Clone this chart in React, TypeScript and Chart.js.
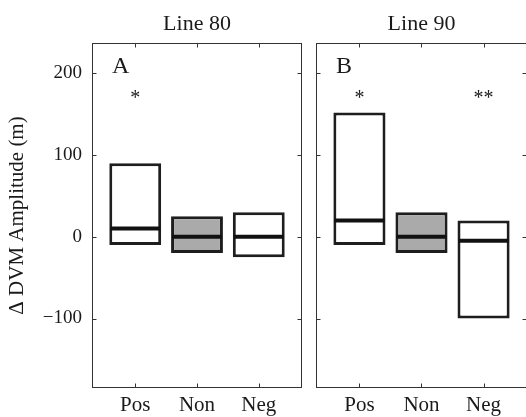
import React, { useEffect, useRef } from 'react';
import { Chart, registerables } from 'chart.js';
Chart.register(...registerables);

// ---- data ----
const categories = ['Pos', 'Non', 'Neg'];
const categoryPositions = [1, 2, 3];
const line80Low = [-10, -20, -25];
const line80High = [90, 25, 30];
const line80Median = [10, 0, 0];
const line90Low = [-10, -20, -100];
const line90High = [152, 30, 20];
const line90Median = [20, 0, -5];
const boxFills = ['#ffffff', '#aaaaaa', '#ffffff'];
const line80Marks = ['*', '', ''];
const line90Marks = ['*', '', '**'];
const markLevel = 175;
const yTicks = [-100, 0, 100, 200];
const yMin = -185;
const yMax = 237;
const xMin = 0.3;
const xMax = 3.7;
const panelTitles = ['Line 80', 'Line 90'];
const panelLetters = ['A', 'B'];
const yAxisTitle = 'Δ DVM Amplitude (m)';

const FONT = "'Liberation Serif', 'Times New Roman', serif";
const TEXT = '#1a1a1a';
const FRAME = '#333333';

function panelPlugin(title: string, letter: string, medians: number[], marks: string[]) {
  return {
    id: 'panelDecor' + letter,
    afterDatasetsDraw(chart: any) {
      const { ctx, chartArea } = chart;
      const xs = chart.scales.x;
      const ys = chart.scales.y;
      const L = Math.round(chartArea.left) + 0.5;
      const R = Math.round(chartArea.right) - 0.5;
      const T = Math.round(chartArea.top) + 0.5;
      const B = Math.round(chartArea.bottom) - 0.5;
      ctx.save();
      // medians
      const meta = chart.getDatasetMeta(0);
      ctx.strokeStyle = '#111111';
      ctx.lineWidth = 4;
      meta.data.forEach((el: any, i: number) => {
        const p = el.getProps(['x', 'width'], true);
        const y = ys.getPixelForValue(medians[i]);
        ctx.beginPath();
        ctx.moveTo(p.x - p.width / 2 + 1, y);
        ctx.lineTo(p.x + p.width / 2 - 1, y);
        ctx.stroke();
      });
      // frame
      ctx.strokeStyle = FRAME;
      ctx.lineWidth = 1;
      ctx.strokeRect(L, T, R - L, B - T);
      // ticks
      ctx.beginPath();
      yTicks.forEach((v) => {
        const y = Math.round(ys.getPixelForValue(v)) + 0.5;
        ctx.moveTo(L, y); ctx.lineTo(L + 4, y);
        ctx.moveTo(R, y); ctx.lineTo(R - 4, y);
      });
      categoryPositions.forEach((v) => {
        const x = Math.round(xs.getPixelForValue(v)) + 0.5;
        ctx.moveTo(x, T); ctx.lineTo(x, T + 4);
        ctx.moveTo(x, B); ctx.lineTo(x, B - 4);
      });
      ctx.stroke();
      // significance marks
      ctx.fillStyle = TEXT;
      ctx.font = `20px ${FONT}`;
      ctx.textAlign = 'center';
      ctx.textBaseline = 'alphabetic';
      marks.forEach((m, i) => {
        if (!m) return;
        ctx.fillText(m, xs.getPixelForValue(categoryPositions[i]), ys.getPixelForValue(markLevel) + 10);
      });
      // panel letter
      ctx.font = `24px ${FONT}`;
      ctx.textAlign = 'left';
      ctx.fillText(letter, chartArea.left + 20, chartArea.top + 30);
      // title
      ctx.font = `22px ${FONT}`;
      ctx.textAlign = 'center';
      ctx.fillText(title, (chartArea.left + chartArea.right) / 2, 30);
      ctx.restore();
    },
  };
}

function makeConfig(idx: number, low: number[], high: number[], medians: number[], marks: string[], showY: boolean) {
  return {
    type: 'bar' as const,
    data: {
      datasets: [
        {
          data: categoryPositions.map((x, i) => ({ x, y: [low[i], high[i]] })),
          backgroundColor: boxFills,
          borderColor: '#1e1e1e',
          borderWidth: 3,
          borderSkipped: false,
          categoryPercentage: 1,
          barPercentage: 0.84,
        },
      ],
    },
    options: {
      animation: false,
      responsive: false,
      maintainAspectRatio: false,
      events: [],
      layout: { padding: { top: 43, right: showY ? 10 : 9, bottom: 0, left: 0 } },
      plugins: { legend: { display: false }, tooltip: { enabled: false }, title: { display: false } },
      scales: {
        x: {
          type: 'linear',
          offset: false,
          min: xMin,
          max: xMax,
          grid: { display: false, drawTicks: false, offset: false },
          border: { display: false },
          afterBuildTicks: (s: any) => { s.ticks = categoryPositions.map((v) => ({ value: v })); },
          afterFit: (s: any) => { s.height = 29; },
          ticks: {
            padding: 5,
            color: TEXT,
            font: { family: FONT, size: 21 },
            callback: (v: number) => categories[categoryPositions.indexOf(v)] ?? '',
            maxRotation: 0,
            autoSkip: false,
          },
        },
        y: {
          type: 'linear',
          min: yMin,
          max: yMax,
          grid: { display: false, drawTicks: false },
          border: { display: false },
          afterBuildTicks: (s: any) => { s.ticks = yTicks.map((v) => ({ value: v })); },
          afterFit: (s: any) => { s.width = showY ? 92 : 10; },
          ticks: {
            display: showY,
            padding: 10,
            color: TEXT,
            font: { family: FONT, size: 19 },
            callback: (v: number) => (v < 0 ? '\u2212' + Math.abs(v) : String(v)),
          },
          title: {
            display: showY,
            text: yAxisTitle,
            color: TEXT,
            font: { family: FONT, size: 21 },
            padding: { top: 5, bottom: 0 },
          },
        },
      },
    },
    plugins: [panelPlugin(panelTitles[idx], panelLetters[idx], medians, marks)],
  };
}

function Panel(props: { idx: number; left: number; width: number; low: number[]; high: number[]; medians: number[]; marks: string[]; showY: boolean }) {
  const ref = useRef<HTMLCanvasElement>(null);
  useEffect(() => {
    if (!ref.current) return;
    const chart = new Chart(ref.current, makeConfig(props.idx, props.low, props.high, props.medians, props.marks, props.showY) as any);
    return () => chart.destroy();
  }, []);
  return (
    <canvas
      ref={ref}
      width={props.width}
      height={417}
      style={{ position: 'absolute', left: props.left, top: 0, width: props.width, height: 417 }}
    />
  );
}

export default function App() {
  return (
    <div style={{ position: 'fixed', left: 0, top: 0, width: 526, height: 417, overflow: 'hidden', background: '#ffffff' }}>
      <Panel idx={0} left={0} width={312} low={line80Low} high={line80High} medians={line80Median} marks={line80Marks} showY={true} />
      <Panel idx={1} left={306} width={230} low={line90Low} high={line90High} medians={line90Median} marks={line90Marks} showY={false} />
    </div>
  );
}
